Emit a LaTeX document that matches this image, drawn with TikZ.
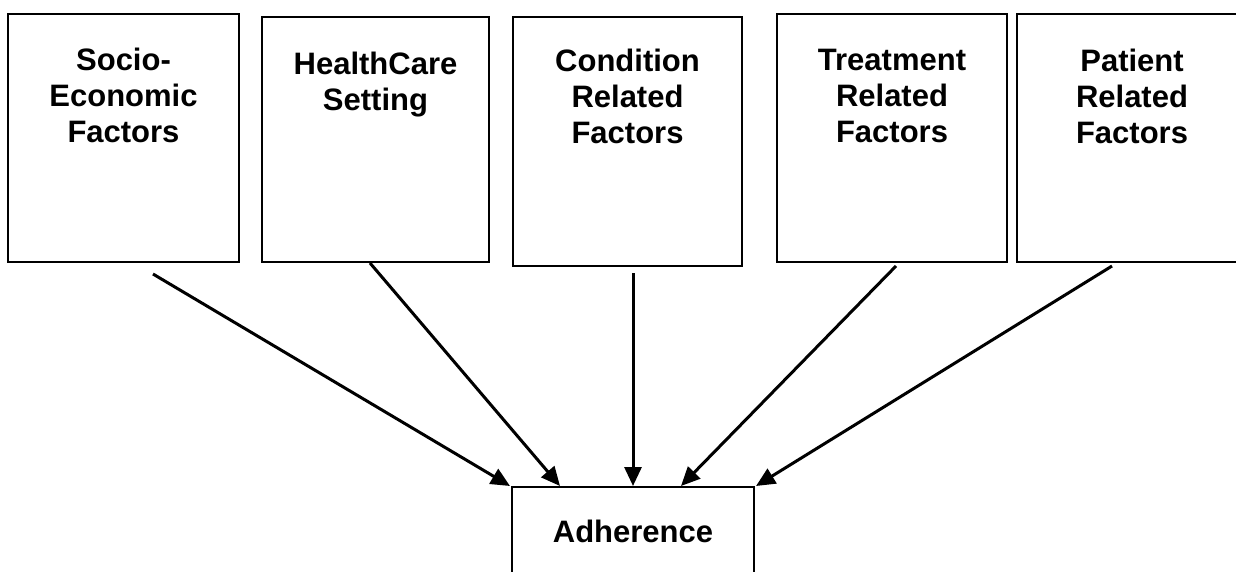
\documentclass[tikz,border=0pt]{standalone}
\usepackage{fontspec}
\setmainfont{Liberation Sans}
\usetikzlibrary{arrows.meta, positioning}

\begin{document}
\begin{tikzpicture}[
    x=1pt, y=-1pt,
    factor/.style={rectangle, draw, line width=2pt, minimum height=248pt, minimum width=230pt, inner sep=0pt},
    factortext/.style={align=center, inner sep=0pt, font=\fontsize{31}{36}\selectfont\bfseries},
    outcome/.style={rectangle, draw, line width=2pt, minimum width=242pt, minimum height=88pt, font=\fontsize{31}{36}\selectfont\bfseries},
    arrow/.style={-{Triangle[length=19pt, width=17pt]}, line width=3pt}
]
\useasboundingbox (0,0) rectangle (1236,571);

% Factors
\node[factor, minimum width=231pt] (socio) at (123.5,138) {};
\node[factortext, below=35pt of socio.north] (socioText) {Socio-\\Economic\\Factors};

\node[factor, minimum width=227pt, minimum height=245pt] (health) at (375.5,139.5) {};
\node[factortext, below=36pt of health.north] (healthText) {HealthCare\\Setting};

\node[factor, minimum width=229pt, minimum height=249pt] (cond) at (627.5,141.5) {};
\node[factortext, below=33pt of cond.north] (condText) {Condition\\Related\\Factors};

\node[factor] (treat) at (892,138) {};
\node[factortext, below=36pt of treat.north] (treatText) {Treatment\\Related\\Factors};

\node[factor] (patient) at (1132,138) {};
\node[factortext, below=36pt of patient.north] (patientText) {Patient\\Related\\Factors};

% Outcome
\node[outcome] (adh) at (633,531) {Adherence};

% Arrows
\draw[arrow] ([xshift=29.5pt, yshift=-11pt]socio.south) -- ([xshift=-1pt]adh.north west);
\draw[arrow] ([xshift=-5.5pt]health.south) -- ([xshift=49pt]adh.north west);
\draw[arrow] ([xshift=5.5pt, yshift=-6pt]cond.south) -- (adh.north);
\draw[arrow] ([xshift=4pt, yshift=-3pt]treat.south) -- ([xshift=48pt]adh.north);
\draw[arrow] ([xshift=-20pt, yshift=-3pt]patient.south) -- ([xshift=1pt]adh.north east);
\end{tikzpicture}
\end{document}
